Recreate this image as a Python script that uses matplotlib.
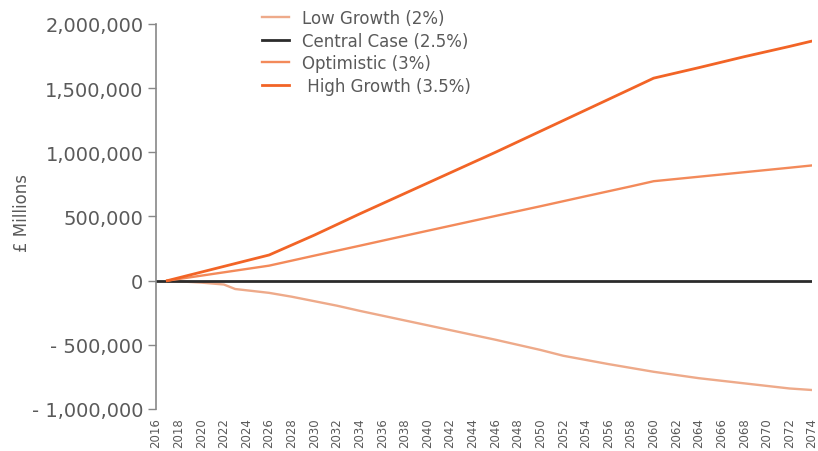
import matplotlib
matplotlib.use("Agg")
import matplotlib.pyplot as plt
from matplotlib.ticker import FuncFormatter

# values (GBP millions)
low_years = [2017, 2020, 2022, 2023, 2026, 2028, 2030, 2032, 2034, 2038, 2042,
             2046, 2050, 2052, 2056, 2060, 2064, 2068, 2072, 2074]
low_values = [0, -15000, -30000, -65000, -95000, -125000, -160000, -195000,
              -235000, -310000, -385000, -460000, -540000, -585000, -650000,
              -710000, -760000, -800000, -840000, -852000]

central_years = [2016, 2074]
central_values = [0, 0]

opt_years = [2017, 2026, 2030, 2034, 2038, 2042, 2046, 2050, 2054, 2058, 2060,
             2064, 2068, 2072, 2074]
opt_values = [0, 117000, 195000, 272000, 350000, 427000, 504000, 580000,
              658000, 735000, 775000, 810000, 845000, 880000, 898000]

high_years = [2017, 2026, 2030, 2034, 2038, 2042, 2046, 2050, 2054, 2058, 2060,
              2064, 2068, 2072, 2074]
high_values = [0, 200000, 355000, 520000, 680000, 840000, 1000000, 1165000,
               1330000, 1495000, 1578000, 1660000, 1745000, 1825000, 1867000]

labels = ["Low Growth (2%)", "Central Case (2.5%)", "Optimistic (3%)",
          " High Growth (3.5%)"]
colors = ["#EEAA8A", "#2B2B2B", "#F38A5A", "#F26426"]

x_ticks = list(range(2016, 2075, 2))
y_ticks = [-1000000, -500000, 0, 500000, 1000000, 1500000, 2000000]

grey = "#5A5A5A"

fig = plt.figure(figsize=(8.18, 4.52), dpi=100)
ax = fig.add_axes([156 / 818, 1 - 410 / 452, (812 - 156) / 818, 385 / 452])

ax.plot(low_years, low_values, color=colors[0], lw=1.7, label=labels[0])
ax.plot(central_years, central_values, color=colors[1], lw=2.0, label=labels[1])
ax.plot(opt_years, opt_values, color=colors[2], lw=1.7, label=labels[2])
ax.plot(high_years, high_values, color=colors[3], lw=2.0, label=labels[3])

ax.set_xlim(2016, 2074)
ax.set_ylim(-1000000, 2000000)

def fmt(v, pos):
    if v < 0:
        return "- " + f"{-v:,.0f}"
    return f"{v:,.0f}"

ax.set_yticks(y_ticks)
ax.yaxis.set_major_formatter(FuncFormatter(fmt))
ax.set_xticks(x_ticks)
ax.set_xticklabels([str(y) for y in x_ticks], rotation=90)

ax.tick_params(axis="y", length=6, width=1, color="#888888", labelsize=14,
               labelcolor=grey, pad=3)
ax.tick_params(axis="x", length=0, labelsize=8.5, labelcolor=grey, pad=6)

for s in ["top", "right", "bottom"]:
    ax.spines[s].set_visible(False)
ax.spines["left"].set_color("#888888")
ax.spines["left"].set_linewidth(1.2)

fig.text(22 / 818, 1 - 213 / 452, "£ Millions", rotation=90, ha="center",
         va="center", fontsize=12, color=grey)

fig.legend(loc="upper left", bbox_to_anchor=(247 / 818, 1 + 5 / 452),
           frameon=False, fontsize=12, labelcolor=grey, handlelength=1.6,
           handletextpad=0.8, labelspacing=0.28)

fig.savefig("out.png", dpi=100)
